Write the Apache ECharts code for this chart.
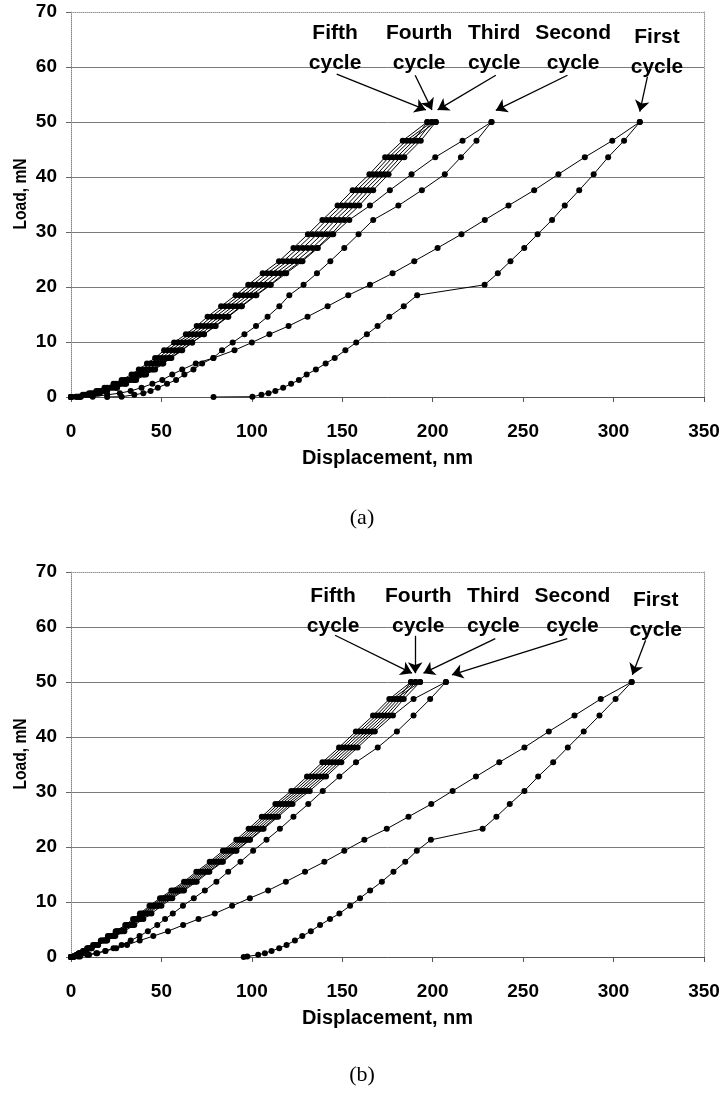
<!DOCTYPE html>
<html>
<head>
<meta charset="utf-8">
<script src="https://cdn.jsdelivr.net/npm/echarts/dist/echarts.min.js"></script>
<style>
html,body{margin:0;padding:0;background:#fff;}
#c{width:723px;height:1103px;}
</style>
</head>
<body>
<div id="c"></div>
<script>
// ---------- Panel (a) data: load levels (mN) and displacement (nm) per curve ----------
const loadA = [0, 0.05, 0.4, 0.7, 1.1, 1.7, 2.4, 3.1, 4.1, 5.0, 6.1, 7.1, 8.5, 9.9, 11.4, 12.9, 14.6, 16.5, 18.5, 20.4, 22.5, 24.7, 27.1, 29.6, 32.2, 34.8, 37.6, 40.5, 43.6, 46.6, 50];
const a1Load   = [0, 12, 20, 27, 33, 39, 45, 50.5, 56, 61.5, 69, 78.8, 90.4, 100, 109.7, 120.3, 130.8, 141.9, 153.3, 165.3, 177.8, 189.8, 202.7, 215.9, 228.8, 241.9, 256.1, 269.5, 284.1, 299.3, 314.5];
const a1Unload = [78.8, 100.3, 105.3, 109.2, 113, 117.3, 121.7, 126, 130.3, 135.4, 140.8, 145.8, 151.7, 157.7, 163.6, 169.5, 176, 184, 191.4, 228.7, 236, 243, 250.6, 258, 266, 273, 281, 289, 297, 305.8, 314.5];
const a2Load   = [0, 5, 10.5, 15, 19.5, 25, 30, 35, 40.5, 45.5, 50.5, 55, 61, 67, 73.5, 80, 87, 94.5, 102.5, 110.5, 119, 128, 136.5, 145, 153.9, 165.3, 176.3, 188.3, 201.4, 216.5, 232.5];
const a2Unload = [20, 28, 35, 40, 44, 48, 53.1, 58.1, 62.7, 67.7, 72.5, 78.7, 83.5, 89.4, 95.9, 102.3, 108.7, 115.2, 120.7, 128.6, 136, 143.4, 151.1, 159, 167.1, 181, 194, 206.7, 215.6, 224.2, 232.5];
const a3Load   = [0, 3.7, 8.5, 12.4, 16.4, 21.3, 26.3, 31.2, 36.7, 41.1, 45.6, 50.1, 55.5, 61, 67.5, 73.5, 79.9, 87.4, 95.4, 102.8, 110.8, 119.8, 128.2, 136.2, 143.8, 152.2, 160.3, 169.2, 177.9, 187.4, 201.7];
const a3Unload = [0, 5.5, 11.5, 16, 20, 25.5, 30.5, 36, 41.5, 46.5, 51, 55.5, 61.5, 67, 73.5, 79.5, 86.5, 94, 102, 110, 118, 127, 136, 144, 151, 159.4, 167.1, 175.6, 184.3, 193.4, 201.7];
const a4Load   = [0, 3.1, 7.5, 11.2, 15.2, 19.9, 24.9, 29.6, 35.1, 39.3, 43.8, 48.3, 53.5, 59, 65.5, 71.5, 77.7, 85.2, 93.2, 100.4, 108.4, 117.4, 125.6, 133.6, 141.4, 149.8, 158, 167.1, 175.8, 185.4, 199.5];
const a4Unload = [0, 4.9, 10.5, 14.8, 18.8, 24.1, 29.1, 34.4, 39.9, 44.7, 49.2, 53.7, 59.5, 65, 71.5, 77.5, 84.3, 91.8, 99.8, 107.6, 115.6, 124.6, 133.4, 141.4, 148.6, 157, 164.8, 173.5, 182.2, 191.4, 199.5];
const a5Load   = [0, 2.5, 6.5, 10, 14, 18.5, 23.5, 28, 33.5, 37.5, 42, 46.5, 51.5, 57, 63.5, 69.5, 75.5, 83, 91, 98, 106, 115, 123, 131, 139, 147.4, 155.7, 165, 173.7, 183.4, 197];
const a5Unload = [0, 4.3, 9.5, 13.6, 17.6, 22.7, 27.7, 32.8, 38.3, 42.9, 47.4, 51.9, 57.5, 63, 69.5, 75.5, 82.1, 89.6, 97.6, 105.2, 113.2, 122.2, 130.8, 138.8, 146.2, 154.6, 162.5, 171.4, 180.1, 189.4, 197];

// ---------- Panel (b) data ----------
const loadB = [0, 0.1, 0.4, 0.7, 1.1, 1.6, 2.2, 3.0, 3.8, 4.7, 5.8, 6.9, 7.9, 9.3, 10.7, 12.1, 13.7, 15.5, 17.3, 19.3, 21.3, 23.3, 25.5, 27.8, 30.2, 32.8, 35.4, 38.1, 41.0, 43.9, 46.9, 50];
const b1Load   = [0, 4, 9, 14, 19, 25, 31, 38, 45.5, 53.6, 62, 70.5, 79.5, 89.1, 98.9, 109, 118.8, 129.4, 140.1, 151.1, 162.2, 174.6, 186.6, 199.2, 211, 223.9, 236.8, 250.7, 264.2, 278.4, 292.9, 310];
const b1Unload = [95.5, 97.5, 103.5, 107.2, 110.9, 115.1, 119.2, 123.8, 127.9, 132.6, 137.7, 143.2, 148.4, 154.3, 159.8, 165.4, 171.9, 178.3, 184.8, 191.2, 199, 227.6, 235.2, 242.6, 250.7, 258.3, 266.6, 274.7, 283.5, 292.2, 301.1, 310];
const b2Load   = [0, 2, 4, 6, 8.5, 11.5, 15, 20, 24.5, 29.5, 35, 40, 44.5, 50, 56, 62.5, 69.5, 76.5, 84, 91.5, 99, 106.5, 114.5, 122.5, 132, 141, 149.5, 158.5, 168, 178, 189.4, 207.3];
const b2Unload = [0, 5, 10, 14.5, 19, 23.5, 28, 33, 37.9, 42.5, 47.7, 52, 56.3, 61.9, 67.9, 74, 80.4, 86.9, 93.7, 100.7, 108.1, 115.5, 123, 131.2, 139.2, 148.4, 157.6, 169.6, 180.2, 189.4, 198.6, 207.3];
const b3Load   = [0, 1.4, 3.4, 4.9, 7.3, 9.8, 13.2, 17.7, 21.7, 26.1, 31.6, 36.1, 40.0, 45.5, 51.4, 57.9, 64.9, 71.9, 79.3, 86.8, 94.3, 101.2, 108.7, 116.2, 125.2, 134.1, 142.6, 151.6, 161.1, 170.6, 179.2, 193];
const b3Unload = [0, 1.8, 4.0, 5.7, 8.4, 11.1, 14.8, 19.5, 23.6, 28.3, 34, 38.7, 42.9, 48.6, 54.8, 61.5, 68.5, 75.7, 83.3, 91, 98.6, 105.8, 113.5, 121, 130.2, 139.5, 148, 156.8, 166.5, 176, 184, 193];
const b4Load   = [0, 1.3, 3.2, 4.6, 7.0, 9.3, 12.7, 17.1, 21.0, 25.4, 30.8, 35.2, 39.1, 44.4, 50.3, 56.7, 63.7, 70.6, 78.0, 85.4, 92.8, 99.7, 107.1, 114.6, 123.5, 132.3, 140.8, 149.9, 159.3, 168.8, 177.6, 190.5];
const b4Unload = [0, 1.7, 3.8, 5.4, 8.0, 10.7, 14.3, 18.9, 23.0, 27.6, 33.2, 37.8, 41.9, 47.6, 53.7, 60.3, 67.3, 74.4, 82.0, 89.6, 97.2, 104.3, 111.9, 119.4, 128.5, 137.7, 146.2, 155.1, 164.7, 174.2, 182.4, 190.5];
const b5Load   = [0, 1.2, 3.0, 4.3, 6.6, 8.9, 12.2, 16.5, 20.4, 24.7, 30, 34.3, 38.1, 43.4, 49.2, 55.5, 62.5, 69.3, 76.7, 84, 91.4, 98.2, 105.5, 113, 121.8, 130.5, 139, 148.2, 157.5, 167, 176, 188];
const b5Unload = [0, 1.6, 3.6, 5.1, 7.7, 10.2, 13.8, 18.3, 22.3, 26.9, 32.4, 36.9, 41.0, 46.5, 52.6, 59.1, 66.1, 73.1, 80.7, 88.2, 95.7, 102.8, 110.3, 117.8, 126.8, 135.9, 144.4, 153.4, 162.9, 172.4, 180.8, 188];

// ---------- Annotations (data units) ----------
const labelsA = [[146, 63.5, 'Fifth\ncycle'], [192.5, 63.5, 'Fourth\ncycle'], [234, 63.5, 'Third\ncycle'], [277.6, 63.5, 'Second\ncycle'], [324, 62.7, 'First\ncycle']];
const arrowsA = [[146.9, 58.7, 196.2, 52.2], [190.3, 58.5, 199.6, 52.2], [234.9, 58.5, 202.7, 52.2], [274.5, 58.5, 234.9, 52.1], [318.7, 58.2, 314.5, 51.9]];
const labelsB = [[144.9, 62.8, 'Fifth\ncycle'], [192, 62.8, 'Fourth\ncycle'], [233.5, 62.8, 'Third\ncycle'], [277.3, 62.8, 'Second\ncycle'], [323.3, 62.2, 'First\ncycle']];
const arrowsB = [[146, 58.5, 188.5, 51.6], [190.3, 58.4, 190.3, 51.6], [234.6, 57.9, 194.9, 51.6], [274.4, 57.9, 210.6, 51.3], [317.7, 57.6, 310.4, 51.3]];

const FONT = "'Liberation Sans', Arial, Helvetica, sans-serif";
const chart = echarts.init(document.getElementById('c'), null, {renderer: 'canvas'});

function curve(xs, ys, g) {
  return {
    type: 'line', xAxisIndex: g * 2, yAxisIndex: g * 2,
    data: xs.map((x, i) => [x, ys[i]]),
    symbol: 'circle', symbolSize: 6, showSymbol: true,
    lineStyle: {color: '#000', width: 1}, itemStyle: {color: '#000'},
    silent: true, animation: false, z: 3
  };
}
function annot(labels, arrows, g) {
  return {
    type: 'scatter', xAxisIndex: g * 2, yAxisIndex: g * 2,
    data: labels, symbolSize: 0, silent: true, animation: false, z: 5,
    itemStyle: {color: '#000', opacity: 1},
    label: {show: true, position: 'inside', formatter: p => p.data[2], opacity: 1,
      color: '#000', fontFamily: FONT, fontWeight: 'bold', fontSize: 21, lineHeight: 30},
    markLine: {
      silent: true, animation: false, symbol: ['none', 'arrow'], symbolSize: 11,
      itemStyle: {color: '#000', opacity: 1},
      lineStyle: {color: '#000', width: 1.3, type: 'solid', opacity: 1}, label: {show: false},
      data: arrows.map(a => [{coord: [a[0], a[1]]}, {coord: [a[2], a[3]]}])
    }
  };
}
function xBottom(g) {
  return {
    gridIndex: g, type: 'value', min: 0, max: 350, interval: 50, position: 'bottom',
    axisLine: {show: true, onZero: false, lineStyle: {color: '#555', width: 1}},
    axisTick: {show: true, length: 5, lineStyle: {color: '#555'}},
    axisLabel: {margin: 25, color: '#000', fontFamily: FONT, fontWeight: 'bold', fontSize: 19},
    splitLine: {show: false},
    name: 'Displacement, nm', nameLocation: 'middle', nameGap: 51,
    nameTextStyle: {color: '#000', fontFamily: FONT, fontWeight: 'bold', fontSize: 20}
  };
}
function xTop(g) {
  return {
    gridIndex: g, type: 'value', min: 0, max: 350, interval: 50, position: 'top',
    axisLine: {show: true, onZero: false, lineStyle: {color: '#999', width: 1, type: 'dotted'}},
    axisTick: {show: false}, axisLabel: {show: false}, splitLine: {show: false}
  };
}
function yLeft(g) {
  return {
    gridIndex: g, type: 'value', min: 0, max: 70, interval: 10, position: 'left',
    axisLine: {show: true, onZero: false, lineStyle: {color: '#888', width: 1, type: 'dotted'}},
    axisTick: {show: true, length: 5, lineStyle: {color: '#666'}},
    axisLabel: {margin: 14, color: '#000', fontFamily: FONT, fontWeight: 'bold', fontSize: 19},
    splitLine: {show: true, showMinLine: false, showMaxLine: false, lineStyle: {color: '#7a7a7a', width: 1}}
  };
}
function yRight(g) {
  return {
    gridIndex: g, type: 'value', min: 0, max: 70, interval: 10, position: 'right',
    axisLine: {show: true, onZero: false, lineStyle: {color: '#999', width: 1, type: 'dotted'}},
    axisTick: {show: false}, axisLabel: {show: false}, splitLine: {show: false}
  };
}

const series = [
  curve(a1Load, loadA, 0), curve(a1Unload, loadA, 0),
  curve(a2Load, loadA, 0), curve(a2Unload, loadA, 0),
  curve(a3Load, loadA, 0), curve(a3Unload, loadA, 0),
  curve(a4Load, loadA, 0), curve(a4Unload, loadA, 0),
  curve(a5Load, loadA, 0), curve(a5Unload, loadA, 0),
  annot(labelsA, arrowsA, 0),
  curve(b1Load, loadB, 1), curve(b1Unload, loadB, 1),
  curve(b2Load, loadB, 1), curve(b2Unload, loadB, 1),
  curve(b3Load, loadB, 1), curve(b3Unload, loadB, 1),
  curve(b4Load, loadB, 1), curve(b4Unload, loadB, 1),
  curve(b5Load, loadB, 1), curve(b5Unload, loadB, 1),
  annot(labelsB, arrowsB, 1)
];

const yTitleFont = "bold 19px 'Liberation Sans', Arial, sans-serif";
chart.setOption({
  backgroundColor: '#fff',
  animation: false,
  grid: [
    {left: 71, top: 12, width: 633, height: 385},
    {left: 71, top: 572, width: 633, height: 385}
  ],
  xAxis: [xBottom(0), xTop(0), xBottom(1), xTop(1)],
  yAxis: [yLeft(0), yRight(0), yLeft(1), yRight(1)],
  series: series,
  graphic: [
    {type: 'text', x: 21, y: 194, rotation: Math.PI / 2, scaleX: 0.82,
      style: {text: 'Load, mN', align: 'center', verticalAlign: 'middle', fill: '#000', font: yTitleFont}},
    {type: 'text', x: 21, y: 754, rotation: Math.PI / 2, scaleX: 0.82,
      style: {text: 'Load, mN', align: 'center', verticalAlign: 'middle', fill: '#000', font: yTitleFont}},
    {type: 'text', x: 362, y: 518,
      style: {text: '(a)', align: 'center', verticalAlign: 'middle', fill: '#000',
        font: "22px 'Liberation Serif', 'Times New Roman', serif"}},
    {type: 'text', x: 362, y: 1075,
      style: {text: '(b)', align: 'center', verticalAlign: 'middle', fill: '#000',
        font: "22px 'Liberation Serif', 'Times New Roman', serif"}}
  ]
});
</script>
</body>
</html>
